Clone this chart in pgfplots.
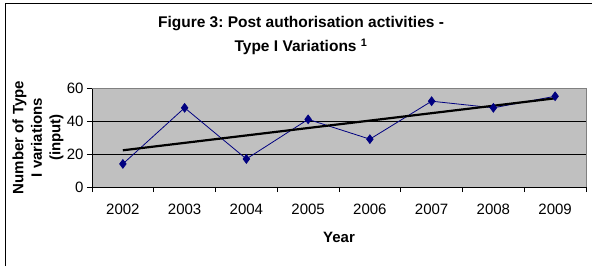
\documentclass[border=0pt]{standalone}
\usepackage{fontspec}
\setmainfont{Liberation Sans}
\usepackage{pgfplots}
\pgfplotsset{compat=1.18}
\definecolor{navy}{RGB}{0,0,128}
\definecolor{plotbg}{RGB}{192,192,192}
\definecolor{plotborder}{RGB}{128,128,128}
\frenchspacing
\begin{document}
\begin{tikzpicture}
\path[use as bounding box] (0pt,0pt) rectangle (592pt,266pt);
\draw[line width=1pt] (5pt,0pt) -- (5pt,263pt) -- (592pt,263pt);
\node[font=\fontsize{15.5}{18}\selectfont\bfseries] at (301pt,242pt) {Figure 3: Post authorisation activities -};
\node[font=\fontsize{15.5}{18}\selectfont\bfseries] at (301pt,219pt) {Type I Variations \textsuperscript{1}};
\begin{axis}[
  at={(92pt,79pt)}, anchor=south west,
  width=494pt, height=99pt, scale only axis,
  xmin=-0.5, xmax=7.5, ymin=0, ymax=60,
  axis x line*=bottom, axis y line*=left,
  axis line style={-, black, line width=0.8pt},
  axis background/.style={fill=plotbg, draw=plotborder},
  xtick={-0.5,0.5,1.5,2.5,3.5,4.5,5.5,6.5,7.5},
  xticklabels={2002,2003,2004,2005,2006,2007,2008,2009,{}},
  xticklabel style={xshift=30.875pt, yshift=-8pt},
  ytick={0,20,40,60},
  ymajorgrids,
  grid style={black, line width=0.6pt},
  tick align=outside,
  major tick length=5pt,
  tick style={black, line width=0.6pt},
  /pgf/number format/assume math mode=true,
  ticklabel style={font=\fontsize{15}{17}\selectfont},
  xlabel={Year},
  ylabel={Number of Type\\I variations\\(input)},
  xlabel style={font=\fontsize{15}{17}\selectfont\bfseries, at={(axis description cs:0.5,-0.505)}, anchor=center},
  ylabel style={font=\fontsize{15}{18.5}\selectfont\bfseries, align=center, at={(axis description cs:-0.1093,0.5)}, anchor=center},
  clip=false,
  after end axis/.code={
    \draw[plotborder, line width=0.8pt] (rel axis cs:0,1) -- (rel axis cs:1,1) -- (rel axis cs:1,0);
  },
]
\addplot[color=navy, line width=0.8pt, mark=diamond*, mark size=4.3pt, mark options={solid, fill=navy}]
  coordinates {(0,14)(1,48)(2,17)(3,41)(4,29)(5,52)(6,48)(7,55)};
\addplot[black, line width=2.2pt, no marks] coordinates {(0,22.25)(7,53.75)};
\end{axis}
\end{tikzpicture}
\end{document}
